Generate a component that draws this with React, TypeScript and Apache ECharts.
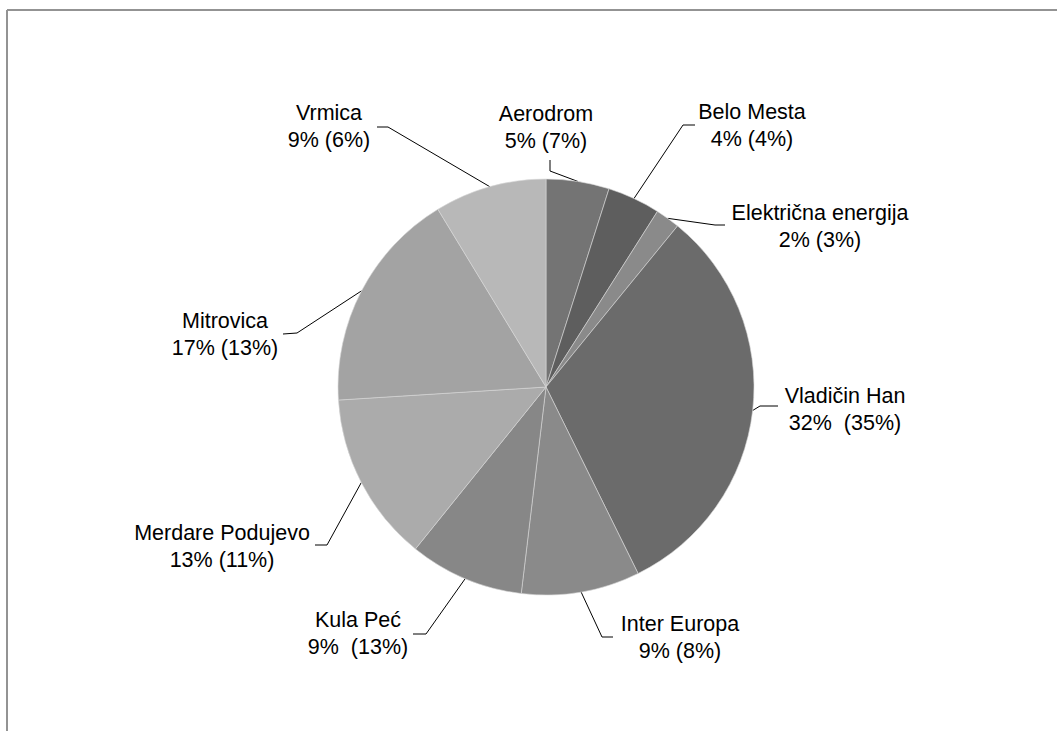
import React, { useEffect, useRef } from "react";
import * as echarts from "echarts";

// Data
const categories = [
  "Aerodrom",
  "Belo Mesta",
  "Električna energija",
  "Vladičin Han",
  "Inter Europa",
  "Kula Peć",
  "Merdare Podujevo",
  "Mitrovica",
  "Vrmica",
];
const shares = [4.9, 4.1, 1.9, 31.8, 9.2, 8.9, 13.2, 17.3, 8.7];
const shareLabels = [
  "5% (7%)",
  "4% (4%)",
  "2% (3%)",
  "32%  (35%)",
  "9% (8%)",
  "9%  (13%)",
  "13% (11%)",
  "17% (13%)",
  "9% (6%)",
];

// Styling / layout (not data)
const sliceColors = [
  "#747474",
  "#5e5e5e",
  "#8a8a8a",
  "#6b6b6b",
  "#8a8a8a",
  "#878787",
  "#ababab",
  "#a3a3a3",
  "#b8b8b8",
];
const labelCenters: number[][] = [
  [546, 127],
  [752, 125],
  [820, 226],
  [845, 409],
  [680, 637],
  [358, 633],
  [222, 546],
  [225, 334],
  [329, 126],
];
const leaderElbows: number[][] = [
  [550, 171],
  [683, 125],
  [715, 225],
  [760, 406],
  [602, 637],
  [426, 634],
  [327, 545],
  [297, 333],
  [388, 127],
];
const leaderEnds: number[][] = [
  [550, 160],
  [695, 125],
  [725, 225],
  [778, 406],
  [613, 637],
  [413, 634],
  [315, 545],
  [283, 334],
  [377, 127],
];

const CX = 546;
const CY = 387;
const R = 208;

export default function App() {
  const ref = useRef<HTMLDivElement>(null);
  useEffect(() => {
    if (!ref.current) return;
    const chart = echarts.init(ref.current, undefined, { renderer: "svg" });
    const total = shares.reduce((a, b) => a + b, 0);
    const data = categories.map((name, i) => ({
      name,
      value: shares[i],
      itemStyle: { color: sliceColors[i] },
    }));
    chart.setOption({
      animation: false,
      backgroundColor: "#ffffff",
      graphic: [
        {
          type: "line",
          shape: { x1: 7, y1: 10, x2: 1057, y2: 10 },
          style: { stroke: "#939393", lineWidth: 2 },
          silent: true,
        },
        {
          type: "line",
          shape: { x1: 7, y1: 10, x2: 7, y2: 731 },
          style: { stroke: "#939393", lineWidth: 2 },
          silent: true,
        },
      ],
      series: [
        {
          type: "pie",
          center: [CX, CY],
          radius: R,
          startAngle: 90,
          clockwise: true,
          avoidLabelOverlap: false,
          data,
          itemStyle: { borderColor: "#d8d8d8", borderWidth: 0.6 },
          emphasis: { disabled: true },
          label: {
            show: true,
            position: "outside",
            formatter: (p: any) => `${p.name}\n${shareLabels[p.dataIndex]}`,
            fontFamily: "Liberation Sans, Arial, sans-serif",
            fontSize: 21.5,
            lineHeight: 27,
            color: "#000000",
            align: "center",
          },
          labelLine: {
            show: true,
            length: 10,
            length2: 10,
            smooth: false,
            lineStyle: { color: "#000000", width: 1 },
          },
          labelLayout: (params: any) => {
            const i = params.dataIndex;
            let before = 0;
            for (let k = 0; k < i; k++) before += shares[k];
            const mid = ((before + shares[i] / 2) / total) * Math.PI * 2;
            const p0 = [CX + R * Math.sin(mid), CY - R * Math.cos(mid)];
            return {
              x: labelCenters[i][0],
              y: labelCenters[i][1],
              align: "center",
              verticalAlign: "middle",
              labelLinePoints: [p0, leaderElbows[i], leaderEnds[i]],
            };
          },
        },
      ],
    });
    return () => chart.dispose();
  }, []);
  return (
    <div
      ref={ref}
      style={{
        position: "fixed",
        left: 0,
        top: 0,
        width: 1057,
        height: 731,
        background: "#fff",
      }}
    />
  );
}
